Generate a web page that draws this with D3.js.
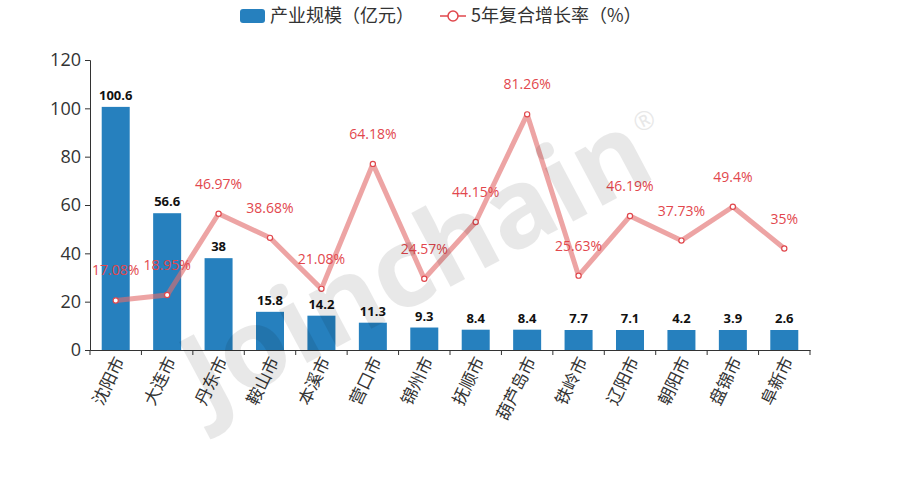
<!DOCTYPE html>
<html><head><meta charset="utf-8">
<script src="https://cdn.jsdelivr.net/npm/d3@7/dist/d3.min.js"></script>
<style>body{margin:0;background:#fff}svg{display:block}</style>
</head><body><svg id="c" width="900" height="500"></svg>
<script>
const categories = ["沈阳市","大连市","丹东市","鞍山市","本溪市","营口市","锦州市","抚顺市","葫芦岛市","铁岭市","辽阳市","朝阳市","盘锦市","阜新市"];
const scaleValues = [100.6,56.6,38,15.8,14.2,11.3,9.3,8.4,8.4,7.7,7.1,4.2,3.9,2.6];
const growthValues = [17.08,18.95,46.97,38.68,21.08,64.18,24.57,44.15,81.26,25.63,46.19,37.73,49.4,35];
const yTicks = [0,20,40,60,80,100,120];
const seriesNames = ["产业规模（亿元）","5年复合增长率（%）"];

const CJK = "'Noto Sans CJK SC','Noto Sans',sans-serif";
const NUM = "'Open Sans','Noto Sans',sans-serif";
const svg = d3.select("#c");
const m = {l:90, r:810, t:60, b:350};
const x = d3.scaleBand().domain(categories).range([m.l, m.r]).paddingInner(0).paddingOuter(0);
const y = d3.scaleLinear().domain([0,120]).range([m.b, m.t]);
const y2 = d3.scaleLinear().domain([0,100]).range([m.b, m.t]);
const barW = 28, barMinH = 20;
const barColor = "#2680be", lineColor = "rgba(226,108,108,0.62)", labelRed = "#e2474d";

// y axis
const ya = svg.append("g").attr("transform",`translate(${m.l},0)`)
  .call(d3.axisLeft(y).tickValues(yTicks).tickSize(5).tickPadding(4));
ya.select(".domain").attr("stroke","#333");
ya.selectAll(".tick line").attr("stroke","#333");
ya.selectAll(".tick text").attr("font-size",18).attr("fill","#333").style("font-family",NUM);

// bars
const bars = svg.append("g");
bars.selectAll("rect").data(categories).join("rect")
  .attr("x", d => x(d) + x.bandwidth()/2 - barW/2)
  .attr("width", barW)
  .attr("y", (d,i) => Math.min(y(scaleValues[i]), m.b - barMinH))
  .attr("height", (d,i) => Math.max(m.b - y(scaleValues[i]), barMinH))
  .attr("fill", barColor);
bars.selectAll("text").data(categories).join("text")
  .attr("x", d => x(d) + x.bandwidth()/2)
  .attr("y", (d,i) => Math.min(y(scaleValues[i]), m.b - barMinH) - 7)
  .attr("text-anchor","middle").attr("font-size",13).attr("font-weight","bold").attr("fill","#111")
  .style("font-family",NUM)
  .text((d,i) => scaleValues[i]);

// x axis
const xa = svg.append("g").attr("transform",`translate(0,${m.b})`)
  .call(d3.axisBottom(x).tickSize(0).tickFormat(""));
xa.select(".domain").attr("stroke","#333").attr("stroke-width",1.2);
const tickPos = d3.range(categories.length+1).map(i => m.l + i*x.bandwidth());
xa.selectAll("line.t").data(tickPos).join("line").attr("class","t")
  .attr("x1",d=>d).attr("x2",d=>d).attr("y1",0).attr("y2",5).attr("stroke","#333");
svg.append("g").selectAll("text").data(categories).join("text")
  .attr("transform", d => `translate(${x(d)+x.bandwidth()/2+4},${m.b+8}) rotate(-64)`)
  .attr("text-anchor","end").attr("dy","0.35em").attr("font-size",17).attr("fill","#333")
  .style("font-family",CJK)
  .text(d => d);

// line
const pts = categories.map((c,i) => [x(c)+x.bandwidth()/2, y2(growthValues[i])]);
svg.append("path").attr("d", d3.line()(pts)).attr("fill","none")
  .attr("stroke", lineColor).attr("stroke-width",5).attr("stroke-linejoin","round");
svg.append("g").selectAll("circle").data(pts).join("circle")
  .attr("cx", d=>d[0]).attr("cy", d=>d[1]).attr("r",2.6)
  .attr("fill","#fff").attr("stroke","#e0474c").attr("stroke-width",1.2);
svg.append("g").selectAll("text").data(pts).join("text")
  .attr("x", d=>d[0]).attr("y", d=>d[1]-25)
  .attr("text-anchor","middle").attr("font-size",14).attr("fill",labelRed)
  .style("font-family",NUM)
  .text((d,i) => growthValues[i] + "%");

// watermark
const wm = svg.append("g").attr("transform","translate(415,262) rotate(-28)").attr("opacity",0.085);
wm.append("text").attr("text-anchor","middle").attr("dy","0.35em").attr("font-size",110).attr("font-weight","bold")
  .attr("fill","#000").style("font-family",NUM).text("Joinchain");
wm.append("text").attr("x",258).attr("y",-8).attr("font-size",26).attr("fill","#000").style("font-family",NUM).text("®");

// legend
const lg = svg.append("g");
lg.append("rect").attr("x",240).attr("y",9).attr("width",25).attr("height",14).attr("rx",3).attr("fill",barColor);
lg.append("text").attr("x",270).attr("y",16).attr("dy","0.35em").attr("font-size",18).attr("fill","#333").style("font-family",CJK).text(seriesNames[0]);
lg.append("line").attr("x1",440).attr("x2",466).attr("y1",16).attr("y2",16).attr("stroke","#e0474c").attr("stroke-width",1.5);
lg.append("circle").attr("cx",453).attr("cy",16).attr("r",5).attr("fill","#fff").attr("stroke","#e0474c").attr("stroke-width",1.5);
lg.append("text").attr("x",471).attr("y",16).attr("dy","0.35em").attr("font-size",18).attr("fill","#333").style("font-family",CJK).text(seriesNames[1]);
</script></body></html>
